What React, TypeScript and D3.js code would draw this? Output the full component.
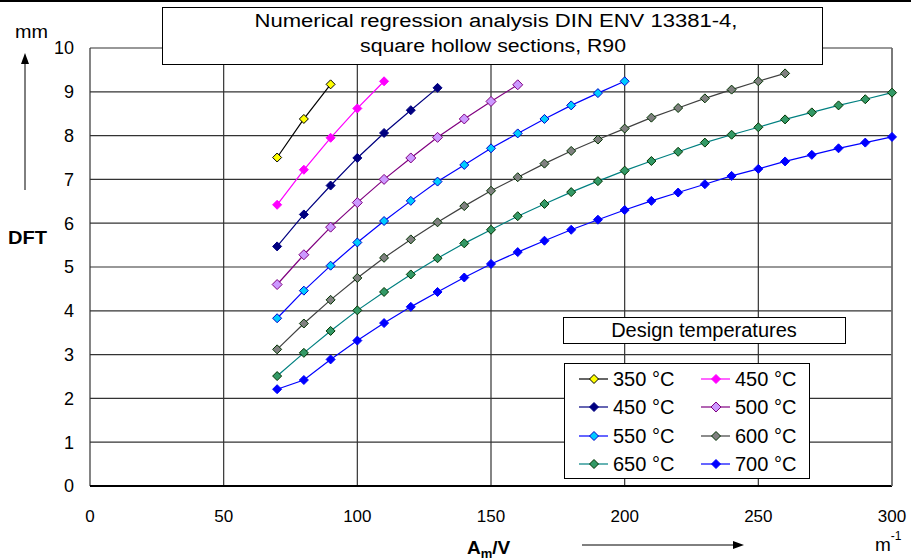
import React from "react";
import * as d3 from "d3";

const W = 911;
const H = 560;

const xTicks = [0, 50, 100, 150, 200, 250, 300];
const yTicks = [0, 1, 2, 3, 4, 5, 6, 7, 8, 9, 10];

const seriesNames = ["350 °C", "450 °C", "450 °C", "500 °C", "550 °C", "600 °C", "650 °C", "700 °C"];
const seriesStartX = 70;
const seriesStep = 10;

const s350 = [7.5, 8.38, 9.17];
const s450a = [6.42, 7.22, 7.95, 8.62, 9.24];
const s450b = [5.47, 6.2, 6.86, 7.49, 8.06, 8.58, 9.09];
const s500 = [4.6, 5.28, 5.91, 6.47, 7.0, 7.49, 7.96, 8.38, 8.78, 9.16];
const s550 = [3.83, 4.46, 5.03, 5.56, 6.05, 6.51, 6.95, 7.33, 7.71, 8.05, 8.38, 8.69, 8.97, 9.24];
const s600 = [3.12, 3.71, 4.25, 4.75, 5.21, 5.63, 6.02, 6.39, 6.74, 7.05, 7.36, 7.65, 7.91, 8.16, 8.41, 8.63, 8.85, 9.05, 9.24, 9.42];
const s650 = [2.51, 3.04, 3.54, 4.01, 4.43, 4.83, 5.2, 5.54, 5.85, 6.16, 6.44, 6.71, 6.96, 7.2, 7.42, 7.63, 7.84, 8.02, 8.19, 8.37, 8.53, 8.69, 8.83, 8.98];
const s700 = [2.21, 2.42, 2.89, 3.32, 3.72, 4.09, 4.43, 4.76, 5.07, 5.34, 5.6, 5.85, 6.08, 6.3, 6.51, 6.7, 6.89, 7.08, 7.24, 7.41, 7.56, 7.71, 7.84, 7.97];

const seriesValues = [s350, s450a, s450b, s500, s550, s600, s650, s700];

const styles = [
  { line: "#000000", fill: "#FFFF00", stroke: "#000000", r: 4.5 },
  { line: "#FF00FF", fill: "#FF00FF", stroke: "#FF00FF", r: 4.5 },
  { line: "#000080", fill: "#000080", stroke: "#000080", r: 4.5 },
  { line: "#800080", fill: "#CC99FF", stroke: "#800080", r: 5 },
  { line: "#0000FF", fill: "#00CCFF", stroke: "#0000CC", r: 4.5 },
  { line: "#404040", fill: "#808080", stroke: "#003300", r: 4.5 },
  { line: "#008080", fill: "#339966", stroke: "#003300", r: 4.5 },
  { line: "#0000FF", fill: "#0000FF", stroke: "#0000FF", r: 4.5 },
];

const FONT = "'Liberation Sans', Arial, sans-serif";

export default function App() {
  const left = 90, right = 892, top = 48, bottom = 486;
  const x = d3.scaleLinear().domain([0, 300]).range([left, right]);
  const y = d3.scaleLinear().domain([0, 10]).range([bottom, top]);
  const line = d3
    .line<number>()
    .x((_, i) => x(seriesStartX + i * seriesStep))
    .y((d) => y(d));

  const diamond = (cx: number, cy: number, r: number) =>
    `M${cx},${cy - r}L${cx + r},${cy}L${cx},${cy + r}L${cx - r},${cy}Z`;

  const legendRows = [379, 407, 436, 464];
  const legendCols = [579, 701];

  return (
    <svg
      width={W}
      height={H}
      style={{ position: "absolute", left: 0, top: 0, background: "#fff" }}
      fontFamily={FONT}
    >
      <rect x={0} y={0} width={W} height={H} fill="#fff" />
      <rect x={0} y={0} width={W} height={2} fill="#000" />

      {/* grid */}
      {yTicks.map((t) => (
        <line key={"gy" + t} x1={left} x2={right} y1={y(t)} y2={y(t)} stroke="#333" strokeWidth={1.2} />
      ))}
      {xTicks.map((t) => (
        <line key={"gx" + t} x1={x(t)} x2={x(t)} y1={top} y2={bottom} stroke="#333" strokeWidth={1.2} />
      ))}
      <line x1={left} x2={right} y1={bottom} y2={bottom} stroke="#000" strokeWidth={2} />
      <line x1={right} x2={right} y1={top} y2={bottom} stroke="#777" strokeWidth={1.5} />

      {/* y tick labels */}
      {yTicks.map((t) => (
        <text key={"yl" + t} x={74} y={y(t)} dy="0.35em" textAnchor="end" fontSize={18} fill="#000">
          {t}
        </text>
      ))}
      {/* x tick labels */}
      {xTicks.map((t) => (
        <text key={"xl" + t} x={x(t)} y={522} textAnchor="middle" fontSize={17} fill="#000">
          {t}
        </text>
      ))}

      {/* series */}
      {seriesValues.map((vals, si) => (
        <g key={"s" + si}>
          <path d={line(vals) || ""} fill="none" stroke={styles[si].line} strokeWidth={1.2} />
          {vals.map((v, i) => (
            <path
              key={i}
              d={diamond(x(seriesStartX + i * seriesStep), y(v), styles[si].r)}
              fill={styles[si].fill}
              stroke={styles[si].stroke}
              strokeWidth={1}
            />
          ))}
        </g>
      ))}

      {/* title box */}
      <rect x={162.5} y={7.5} width={660} height={57} fill="#fff" stroke="#000" strokeWidth={1} />
      <text x={496} y={27} textAnchor="middle" fontSize={18} textLength={483} lengthAdjust="spacingAndGlyphs" fill="#000">
        Numerical regression analysis DIN ENV 13381-4,
      </text>
      <text x={493} y={52} textAnchor="middle" fontSize={18} textLength={266} lengthAdjust="spacingAndGlyphs" fill="#000">
        square hollow sections, R90
      </text>

      {/* legend title */}
      <rect x={563.5} y={317.5} width={282} height={26} fill="#fff" stroke="#000" strokeWidth={1} />
      <text x={704} y={337} textAnchor="middle" fontSize={20} fill="#000">
        Design temperatures
      </text>

      {/* legend */}
      <rect x={564.5} y={363.5} width={245} height={115} fill="#fff" stroke="#000" strokeWidth={1} />
      {seriesNames.map((name, i) => {
        const col = i % 2;
        const row = Math.floor(i / 2);
        const lx = legendCols[col];
        const ly = legendRows[row];
        return (
          <g key={"lg" + i}>
            <line x1={lx} x2={lx + 29} y1={ly} y2={ly} stroke={styles[i].line} strokeWidth={1.2} />
            <path d={diamond(lx + 15, ly, styles[i].r)} fill={styles[i].fill} stroke={styles[i].stroke} strokeWidth={1} />
            <text x={lx + 34} y={ly} dy="0.36em" fontSize={20} fill="#000">
              {name}
            </text>
          </g>
        );
      })}

      {/* axis titles */}
      <text x={15} y={38} fontSize={18} textLength={33} lengthAdjust="spacingAndGlyphs" fill="#000">mm</text>
      <line x1={25} x2={25} y1={190} y2={62} stroke="#000" strokeWidth={1} />
      <path d="M25,53L21,64L29,64Z" fill="#000" />
      <text x={8} y={244} fontSize={18} fontWeight="bold" textLength={39} lengthAdjust="spacingAndGlyphs" fill="#000">DFT</text>

      <text x={467} y={554} fontSize={19} fontWeight="bold" fill="#000">
        A<tspan fontSize={13} dy={4}>m</tspan>
        <tspan dy={-4}>/V</tspan>
      </text>
      <line x1={582} x2={735} y1={545} y2={545} stroke="#000" strokeWidth={1} />
      <path d="M744,545L733,541L733,549Z" fill="#000" />
      <text x={875} y={551} fontSize={19} fill="#000">
        m<tspan fontSize={12} dy={-11}>-1</tspan>
      </text>
    </svg>
  );
}
